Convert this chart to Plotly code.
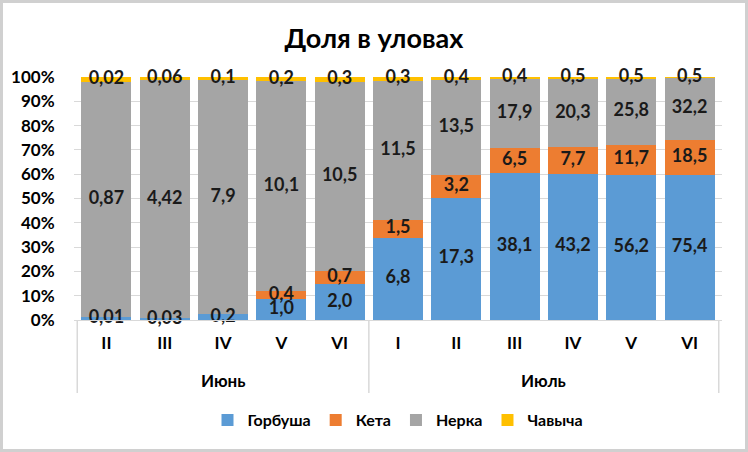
import plotly.graph_objects as go

months = ["Июнь", "Июль"]
month_sizes = [5, 6]
periods = ["II", "III", "IV", "V", "VI", "I", "II", "III", "IV", "V", "VI"]

gorbusha = [0.01, 0.03, 0.2, 1.0, 2.0, 6.8, 17.3, 38.1, 43.2, 56.2, 75.4]
keta = [0, 0, 0, 0.4, 0.7, 1.5, 3.2, 6.5, 7.7, 11.7, 18.5]
nerka = [0.87, 4.42, 7.9, 10.1, 10.5, 11.5, 13.5, 17.9, 20.3, 25.8, 32.2]
chavycha = [0.02, 0.06, 0.1, 0.2, 0.3, 0.3, 0.4, 0.4, 0.5, 0.5, 0.5]

gorbusha_lbl = ["0,01", "0,03", "0,2", "1,0", "2,0", "6,8", "17,3", "38,1", "43,2", "56,2", "75,4"]
keta_lbl = ["", "", "", "0,4", "0,7", "1,5", "3,2", "6,5", "7,7", "11,7", "18,5"]
nerka_lbl = ["0,87", "4,42", "7,9", "10,1", "10,5", "11,5", "13,5", "17,9", "20,3", "25,8", "32,2"]
chavycha_lbl = ["0,02", "0,06", "0,1", "0,2", "0,3", "0,3", "0,4", "0,4", "0,5", "0,5", "0,5"]

series = [
    ("Горбуша", gorbusha, gorbusha_lbl, "#5B9BD5"),
    ("Кета", keta, keta_lbl, "#ED7D31"),
    ("Нерка", nerka, nerka_lbl, "#A5A5A5"),
    ("Чавыча", chavycha, chavycha_lbl, "#FFC000"),
]

month_of = []
for m, n in zip(months, month_sizes):
    month_of += [m] * n
cats = [f"{m} {p}" for m, p in zip(month_of, periods)]

FONT = "Lato"
LBL = dict(family=FONT, size=18, color="#1a1a1a", weight="bold")
fig = go.Figure()
for name, vals, lbls, col in series:
    fig.add_trace(go.Bar(name=name, x=cats, y=vals, marker_color=col,
                         marker_line_width=0, hoverinfo="skip"))

# data labels drawn above all bars, centred on each segment (percent units)
totals = [sum(v) for v in zip(gorbusha, keta, nerka, chavycha)]
base = [0.0] * len(cats)
for name, vals, lbls, col in series:
    pct = [v / t * 100 for v, t in zip(vals, totals)]
    mids = [b + p / 2 for b, p in zip(base, pct)]
    base = [b + p for b, p in zip(base, pct)]
    fig.add_trace(go.Scatter(x=cats, y=mids, mode="text", text=lbls,
                             textposition="middle center", textfont=LBL,
                             showlegend=False, hoverinfo="skip", cliponaxis=False))

W, H = 748, 452
ml, mr, mt, mb = 74, 26, 77, 132
pw, ph = W - ml - mr, H - mt - mb

fig.update_layout(
    width=W, height=H,
    barmode="stack", barnorm="percent", bargap=0.14,
    margin=dict(l=ml, r=mr, t=mt, b=mb, autoexpand=False),
    paper_bgcolor="white", plot_bgcolor="white",
    title=dict(text="Доля в уловах", x=0.5, xanchor="center",
               y=1 - 39 / H, yanchor="middle",
               font=dict(family=FONT, size=27, color="black", weight="bold")),
    font=dict(family=FONT, size=16, color="#1a1a1a"),
    legend=dict(orientation="h", x=0.5, xanchor="center", y=-(420 - 320) / ph, yanchor="middle",
                font=dict(family=FONT, size=16, color="black", weight="bold"),
                traceorder="normal", itemwidth=30),
    showlegend=True,
)
fig.update_yaxes(range=[0, 100], dtick=10, ticksuffix="%", showgrid=True,
                 gridcolor="#D9D9D9", gridwidth=1, zeroline=False,
                 tickfont=dict(family=FONT, size=17, color="black", weight="bold"),
                 ticks="outside", ticklen=15, tickcolor="rgba(0,0,0,0)", automargin=False)
fig.update_xaxes(type="category", tickvals=cats, ticktext=periods,
                 showline=True, linecolor="#D9D9D9", linewidth=1,
                 ticks="outside", ticklen=8, tickcolor="rgba(0,0,0,0)",
                 tickfont=dict(family=FONT, size=17, color="black", weight="bold"),
                 automargin=False)

start = 0
bounds = [-0.5]
for m, n in zip(months, month_sizes):
    fig.add_annotation(x=start + (n - 1) / 2, xref="x", y=-(380 - 320) / ph, yref="paper",
                       text=m, showarrow=False, yanchor="middle",
                       font=dict(family=FONT, size=17, color="black", weight="bold"))
    start += n
    bounds.append(start - 0.5)
for b in bounds:
    fig.add_shape(type="line", xref="x", yref="paper", x0=b, x1=b,
                  y0=0, y1=-(393 - 320) / ph, line=dict(color="#D9D9D9", width=1.5))

fig.add_shape(type="rect", xref="paper", yref="paper",
              x0=-(ml - 1.5) / pw, x1=1 + (mr - 1.5) / pw,
              y0=-(mb - 1.5) / ph, y1=1 + (mt - 1.5) / ph,
              line=dict(color="#D0D0D0", width=3), fillcolor="rgba(0,0,0,0)", layer="above")

fig.write_html("out.html", config={"displayModeBar": False},
               post_script="document.body.style.margin='0';document.body.style.overflow='hidden';")
